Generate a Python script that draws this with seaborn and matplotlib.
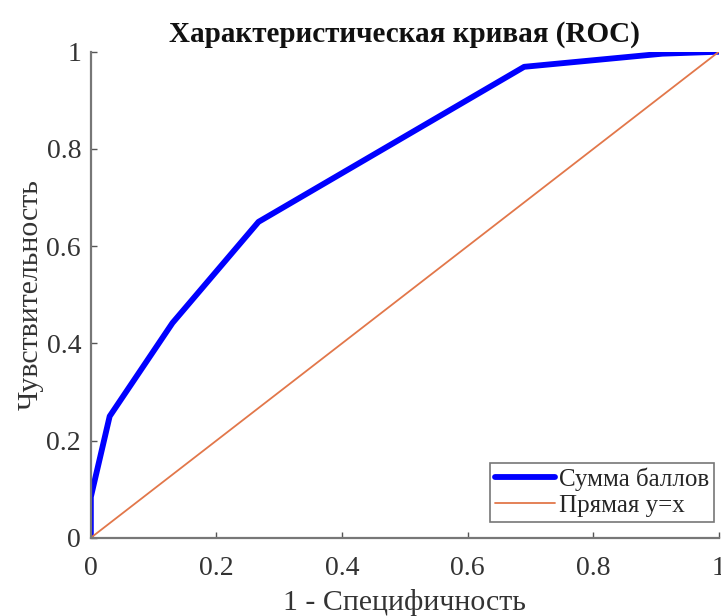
import matplotlib
matplotlib.use("Agg")
import matplotlib.pyplot as plt
import seaborn as sns
import pandas as pd

fpr = [0.0, 0.0, 0.03, 0.13, 0.267, 0.69, 0.91, 1.0]
tpr = [0.0, 0.084, 0.25, 0.442, 0.65, 0.969, 0.996, 1.0]
diag_x = [0.0, 1.0]
diag_y = [0.0, 1.0]
ticks = [0, 0.2, 0.4, 0.6, 0.8, 1]
tick_labels = ["0", "0.2", "0.4", "0.6", "0.8", "1"]

sns.set_theme(style="white")
plt.rcParams['font.family'] = ['Liberation Serif', 'DejaVu Serif']

fig = plt.figure(figsize=(7.21, 6.16), dpi=100)
ax = fig.add_axes([0.126, 0.127, 0.871, 0.789])

df1 = pd.DataFrame({"x": fpr, "y": tpr})
df2 = pd.DataFrame({"x": diag_x, "y": diag_y})
sns.lineplot(data=df1, x="x", y="y", ax=ax, color="#0000FF", linewidth=4.2,
             label="Сумма баллов", sort=False, estimator=None)
sns.lineplot(data=df2, x="x", y="y", ax=ax, color="#E2774A", linewidth=1.3,
             label="Прямая y=x", sort=False, estimator=None)

ax.set_xlim(0, 1)
ax.set_ylim(0, 1)
ax.set_xticks(ticks)
ax.set_xticklabels(tick_labels)
ax.set_yticks(ticks)
ax.set_yticklabels(tick_labels)
ax.tick_params(direction="in", length=4, width=1, color="#555555",
               labelsize=20, top=False, right=False, bottom=True, left=True,
               labelcolor="#333333")
ax.tick_params(axis="x", pad=13)
ax.tick_params(axis="y", pad=7)
for side in ["top", "right"]:
    ax.spines[side].set_visible(False)
for side in ["left", "bottom"]:
    ax.spines[side].set_color("#777777")
    ax.spines[side].set_linewidth(1.6)

ax.set_xlabel("1 - Специфичность", fontsize=21.5, color="#333333", labelpad=6)
ax.set_ylabel("Чувствительность", fontsize=21.5, color="#333333", labelpad=2)
ax.set_title("Характеристическая кривая (ROC)", fontsize=21, fontweight="bold",
             color="#111111", pad=7)

leg = ax.legend(loc="lower right", bbox_to_anchor=(0.992, 0.033), fontsize=18,
                frameon=True, fancybox=False, edgecolor="#555555",
                handlelength=2.4, borderpad=0.2, labelspacing=0.12,
                handletextpad=0.15, borderaxespad=0.0)
leg.get_frame().set_linewidth(1.2)

fig.savefig("out.png", dpi=100)
